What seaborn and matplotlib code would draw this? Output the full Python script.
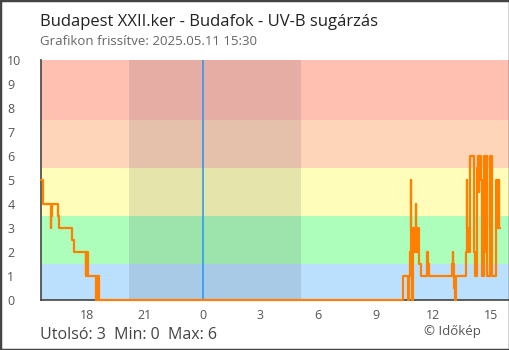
import matplotlib
matplotlib.use("Agg")
import matplotlib.pyplot as plt
from matplotlib.patches import Rectangle
import seaborn as sns
import pandas as pd

# UV-B index readings (hours relative to midnight of 2025.05.11, step values)
hours = [-8.43, -8.33, -7.92, -7.90, -7.88, -7.86, -7.54, -7.49, -6.78, -6.72,
         -6.07, -6.05, -6.03, -6.01, -5.99, -5.97, -5.95, -5.53, -5.51, -5.38,
         10.44, 10.66, 10.68, 10.70, 10.72, 10.74, 10.76, 10.78, 10.82, 10.84,
         10.85, 10.88, 10.91, 10.93, 10.96, 10.99, 11.02, 11.05, 11.09, 11.11,
         11.14, 11.17, 11.20, 11.27, 11.34, 11.69, 11.71, 11.76, 12.98, 13.02,
         13.04, 13.07, 13.15, 13.17, 13.72, 13.74, 13.75, 13.77, 13.80, 13.83,
         13.86, 13.90, 13.92, 14.12, 14.18, 14.29, 14.31, 14.38, 14.40, 14.48,
         14.52, 14.64, 14.68, 14.70, 14.72, 14.74, 14.76, 14.78, 14.80, 14.94,
         15.04, 15.26, 15.28, 15.30, 15.33, 15.37, 15.40, 15.42, 15.45]
uvb = [5, 4, 3.5, 3, 3.5, 4, 3.5, 3, 2.5, 2,
       1, 2, 1, 2, 1, 2, 1, 0, 1, 0,
       1, 0, 1, 0, 1, 0, 1, 2, 3, 5,
       3, 2, 0, 2, 3, 2, 3, 2, 4, 2,
       3, 2, 3, 1.5, 1, 2, 1.5, 1, 1.5, 2,
       1.5, 0.5, 0, 1, 2, 3, 5, 3, 2, 3,
       2, 3, 6, 2, 1, 5.5, 6, 4.5, 6, 5,
       1, 6, 3, 4.5, 2, 4, 3, 6, 1, 6,
       1, 3, 5, 3, 5, 3, 5, 3, 3]

# UV category bands: lower bound, upper bound, colour
band_low = [0, 1.5, 3.5, 5.5, 7.5]
band_high = [1.5, 3.5, 5.5, 7.5, 10]
band_colors = ["#bbe0fd", "#adfdbb", "#fffdb9", "#ffd5ba", "#ffc0b2"]

sunset, sunrise = -3.83, 5.10
x_ticks = [-6, -3, 0, 3, 6, 9, 12, 15]
x_tick_labels = ["18", "21", "0", "3", "6", "9", "12", "15"]
y_ticks = list(range(0, 11))

title = "Budapest XXII.ker - Budafok - UV-B sugárzás"
subtitle = "Grafikon frissítve: 2025.05.11 15:30"
summary = "Utolsó: 3  Min: 0  Max: 6"
credit = "© Időkép"

sns.set_theme(style="white")
plt.rcParams["font.family"] = ["Open Sans", "DejaVu Sans"]

W, H = 510, 350
fig = plt.figure(figsize=(W / 100, H / 100), dpi=100)
left, right, top, bottom = 40.7, 509, 60, 300
ax = fig.add_axes([left / W, 1 - bottom / H, (right - left) / W, (bottom - top) / H])

for lo, hi, c in zip(band_low, band_high, band_colors):
    ax.axhspan(lo, hi, color=c, lw=0, zorder=0)
ax.axvspan(sunset, sunrise, color="#1a1a33", alpha=0.11, lw=0, zorder=1)
ax.axvline(0, color="#2196f3", lw=1.1, zorder=2)

df = pd.DataFrame({"hour": hours, "uvb": uvb})
sns.lineplot(data=df, x="hour", y="uvb", ax=ax, color="#ff8000", lw=1.6,
             drawstyle="steps-post", estimator=None, sort=False, zorder=3,
             clip_on=False)

ax.set_xlim(-8.43, 15.94)
ax.set_ylim(0, 10)
ax.set_xlabel("")
ax.set_ylabel("")
ax.set_xticks(x_ticks)
ax.set_xticklabels(x_tick_labels)
ax.set_yticks(y_ticks)
ax.set_yticklabels([str(v) for v in y_ticks], ha="left")

for side in ("top", "right"):
    ax.spines[side].set_visible(False)
for side in ("left", "bottom"):
    ax.spines[side].set_color("#444444")
    ax.spines[side].set_linewidth(1.2)
    ax.spines[side].set_zorder(2.5)

ax.tick_params(axis="both", direction="inout", length=9, width=1.2,
               color="#444444", labelcolor="#555555", labelsize=9)
ax.tick_params(axis="x", pad=2)
ax.tick_params(axis="y", pad=19.6)

fig.text(40 / W, 1 - 26 / H, title, fontsize=12, color="#222222", va="baseline")
fig.text(40 / W, 1 - 45 / H, subtitle, fontsize=9.5, color="#666666", va="baseline")
fig.text(40 / W, 1 - 339 / H, summary, fontsize=11.5, color="#444444", va="baseline")
fig.text(481 / W, 1 - 335 / H, credit, fontsize=9.5, color="#555555", va="baseline", ha="right")

fig.add_artist(Rectangle((0, 0), 1, 1, transform=fig.transFigure, fill=False,
                         edgecolor="#444444", lw=2.5))

fig.savefig("out.png", dpi=100)
